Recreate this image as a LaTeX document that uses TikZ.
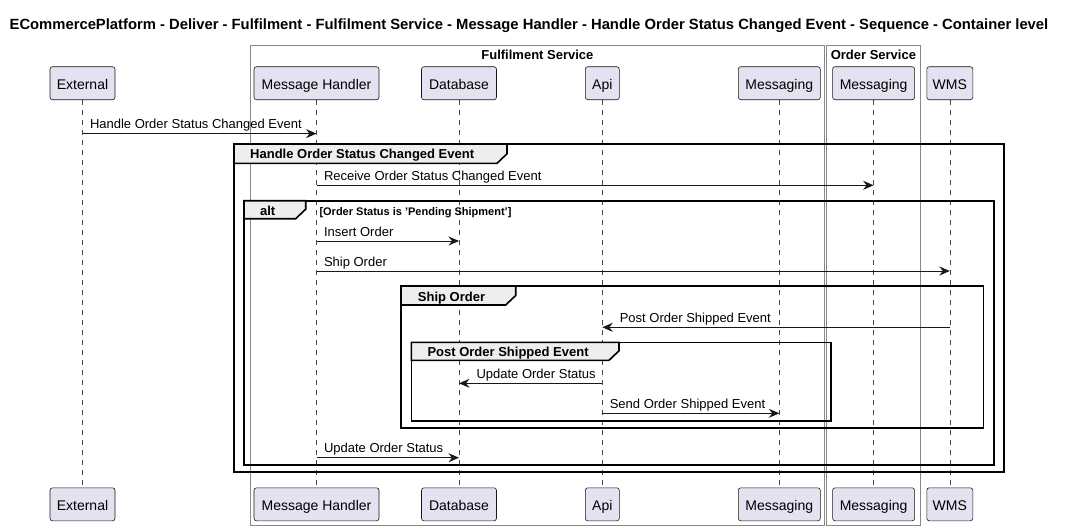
\documentclass[tikz,border=0pt]{standalone}
\usepackage{fontspec}
\setmainfont{Liberation Sans}
\usetikzlibrary{arrows.meta}
\definecolor{partfill}{HTML}{E2E2F0}
\definecolor{partline}{HTML}{181818}
\definecolor{tabfill}{HTML}{EEEEEE}
\definecolor{boxline}{HTML}{888888}
\tikzset{
  participant/.style={draw=partline, fill=partfill, line width=0.6pt, rounded corners=2.5pt,
    minimum height=33pt, inner sep=0pt, text height=15pt, text depth=2.4pt,
    font=\fontsize{14}{16}\selectfont},
  lifeline/.style={draw=partline!80, line width=0.5pt, dash pattern=on 5pt off 5pt},
  msgline/.style={draw=partline, line width=1pt, -{Stealth[length=10.5pt,width=9pt,inset=3.5pt]}},
  msgtext/.style={font=\fontsize{13}{15}\selectfont, inner sep=0pt, text=black},
  grpframe/.style={draw=black, line width=1.6pt},
  grptab/.style={draw=black, fill=tabfill, line width=1.6pt, line join=miter},
  grptext/.style={font=\fontsize{13}{15}\selectfont\bfseries, inner sep=0pt, anchor=base west},
  condtext/.style={font=\fontsize{11}{13}\selectfont\bfseries, inner sep=0pt, anchor=base west},
  boxframe/.style={draw=boxline, line width=0.8pt},
  boxtitle/.style={font=\fontsize{13}{15}\selectfont\bfseries, inner sep=0pt, anchor=base},
}
\newcommand\partic[4]{%
  \node[participant, minimum width=#3pt] (#1) at (#2,83.2) {#4};
  \node[participant, minimum width=#3pt] (#1b) at (#2,504.3) {#4};
  \draw[lifeline] (#1.south) -- (#1b.north);}
\newcommand\msgR[4]{%
  \draw[msgline] (#1 |- 0,#3) -- (#2 |- 0,#3)
    node[pos=0, msgtext, anchor=base west, xshift=7pt, yshift=5pt] {#4};}
\newcommand\msgL[4]{%
  \draw[msgline] (#1 |- 0,#3) -- (#2 |- 0,#3)
    node[pos=1, msgtext, anchor=base west, xshift=17pt, yshift=5pt] {#4};}
\newcommand\grp[7]{%
  \draw[grpframe] (#1,#2) rectangle (#3,#4);
  \draw[grptab] (#1,#2) -- (#5,#2) -- (#5,#6-9.5) -- (#5-10,#6) -- (#1,#6) -- cycle;}
\begin{document}
\begin{tikzpicture}[x=1pt,y=-1pt]
\useasboundingbox (0,0) rectangle (1065,530);
\fill[white] (0,0) rectangle (1065,530);
% title
\node[inner sep=0pt, anchor=base, font=\fontsize{14.8}{17}\selectfont\bfseries] (title) at (529,29.6)
  {ECommercePlatform - Deliver - Fulfilment - Fulfilment Service - Message Handler - Handle Order Status Changed Event - Sequence - Container level};
% boxes
\draw[boxframe] (250.5,45.8) rectangle (824.4,525.3);
\draw[boxframe] (826.2,45.8) rectangle (920.5,525.3);
\node[boxtitle] (fstitle) at (537.4,59.5) {Fulfilment Service};
\node[boxtitle] (ostitle) at (873.4,59.5) {Order Service};
% participants
\partic{ext}{82.5}{65}{External}
\partic{mh}{316.5}{125}{Message Handler}
\partic{db}{459}{75}{Database}
\partic{api}{602.3}{34}{Api}
\partic{fmsg}{779.3}{82}{Messaging}
\partic{omsg}{873.6}{82}{Messaging}
\partic{wms}{949.8}{46}{WMS}
% groups
\grp{234}{144}{1003.7}{472}{507}{163.3}{}
\node[grptext] (g1) at (250,158.6) {Handle Order Status Changed Event};
\grp{244}{200.7}{993.7}{464.7}{305.7}{218.7}{}
\node[grptext, anchor=base] (g2) at (267.7,215.3) {alt};
\node[condtext] (g2c) at (319.3,215) {[Order Status is 'Pending Shipment']};
\grp{401}{286}{983.3}{428}{515.7}{305}{}
\node[grptext] (g3) at (417.7,301.3) {Ship Order};
\grp{411.3}{342.3}{830.7}{421}{619}{360.3}{}
\node[grptext] (g4) at (427.3,356.6) {Post Order Shipped Event};
% messages
\msgR{ext}{mh}{133.6}{Handle Order Status Changed Event}
\msgR{mh}{omsg}{185.3}{Receive Order Status Changed Event}
\msgR{mh}{db}{241}{Insert Order}
\msgR{mh}{wms}{271}{Ship Order}
\msgL{wms}{api}{327.3}{Post Order Shipped Event}
\msgL{api}{db}{383.3}{Update Order Status}
\msgR{api}{fmsg}{413.3}{Send Order Shipped Event}
\msgR{mh}{db}{457.7}{Update Order Status}
\end{tikzpicture}
\end{document}
